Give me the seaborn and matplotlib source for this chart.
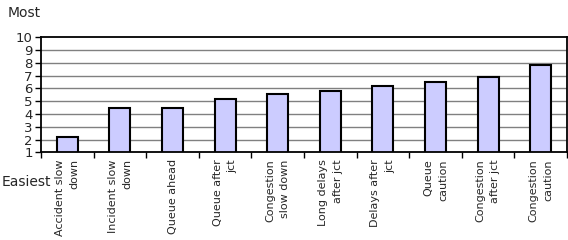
import numpy as np
import pandas as pd
import seaborn as sns
import matplotlib.pyplot as plt

# Data
labels = ["Accident slow\ndown", "Incident slow\ndown", "Queue ahead",
          "Queue after\njct", "Congestion\nslow down", "Long delays\nafter jct",
          "Delays after\njct", "Queue\ncaution", "Congestion\nafter jct",
          "Congestion\ncaution"]
scores = [2.2, 4.45, 4.5, 5.17, 5.6, 5.82, 6.2, 6.5, 6.87, 7.85]
yticks = list(range(1, 11))

df = pd.DataFrame({"message": labels, "score": scores})

sns.set_style("white")
plt.rcParams['font.family'] = ['DejaVu Sans']

fig = plt.figure(figsize=(5.68, 2.40), dpi=100)
ax = fig.add_axes([0.0722, 0.365, 0.926, 0.48])

for y in yticks[1:-1]:
    ax.axhline(y, color="#808080", lw=1.0, zorder=0)

sns.barplot(data=df, x="message", y="score", color="#CCCCFF",
            saturation=1, width=0.4, edgecolor="black", linewidth=1.5,
            ax=ax, zorder=2)

ax.set_ylim(1, 10)
ax.set_xlim(-0.5, len(labels) - 0.5)
ax.set_yticks(yticks)
ax.set_yticklabels([str(v) for v in yticks], fontsize=9.5)
ax.set_xlabel("")
ax.set_ylabel("")

ax.set_xticks(np.arange(len(labels)))
ax.set_xticklabels(labels, rotation=90, fontsize=8, ha="center", va="top",
                   multialignment="right", linespacing=1.6)
ax.set_xticks(np.arange(-0.5, len(labels)), minor=True)
ax.tick_params(axis="x", which="major", length=0, pad=5)
ax.tick_params(axis="x", which="minor", length=4, width=1, color="black",
               direction="out", bottom=True)
ax.tick_params(axis="y", length=4, width=1, color="black", direction="out",
               left=True, pad=2)

for s in ax.spines.values():
    s.set_color("black")
    s.set_linewidth(1.3)

fig.text(8 / 568, 1 - 13 / 240, "Most", fontsize=10, va="center", ha="left")
fig.text(2 / 568, 1 - 182 / 240, "Easiest", fontsize=10, va="center", ha="left")

fig.savefig("out.png", dpi=100)
